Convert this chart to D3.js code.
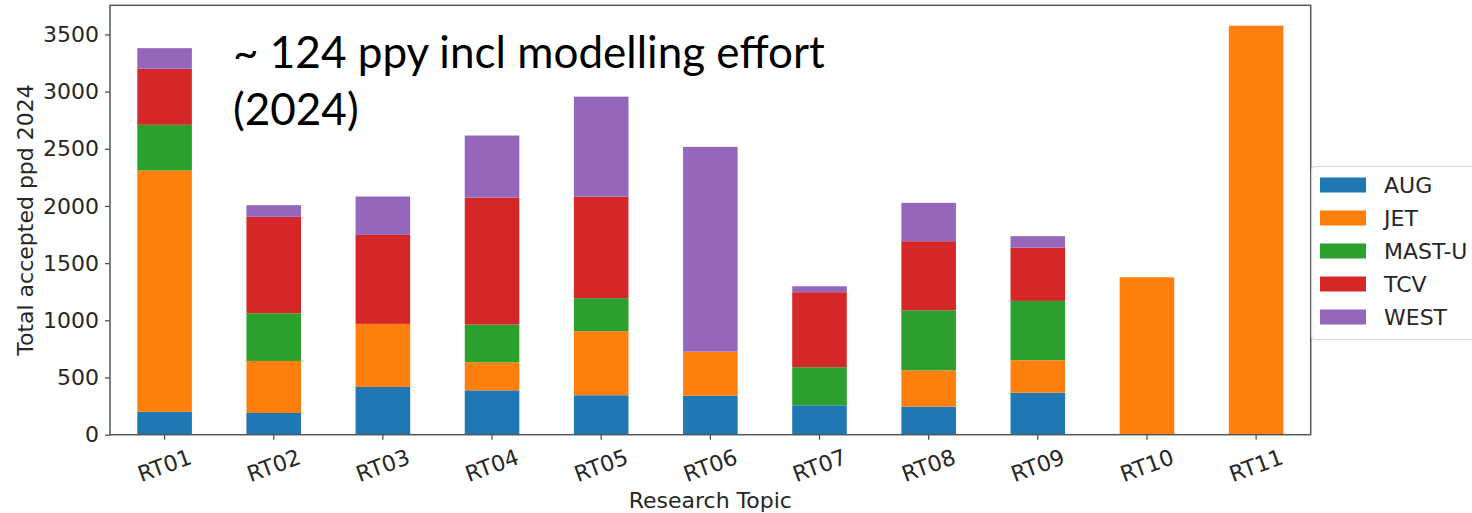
<!DOCTYPE html>
<html>
<head>
<meta charset="utf-8">
<script src="https://cdn.jsdelivr.net/npm/d3@7"></script>
<style>
  html, body { margin: 0; padding: 0; background: #fff; }
  svg { display: block; }
</style>
</head>
<body>
<svg id="chart" width="1472" height="513"></svg>
<script>
// Research topics on the x axis
const categories = ["RT01", "RT02", "RT03", "RT04", "RT05", "RT06", "RT07", "RT08", "RT09", "RT10", "RT11"];

// Accepted ppd per device, 2024
const AUG    = [200, 190, 417, 388, 345, 341, 257, 245, 367, 0, 0];
const JET    = [2110, 455, 552, 245, 560, 385, 0, 318, 284, 1377, 3576];
const MAST_U = [400, 417, 0, 330, 289, 0, 333, 525, 519, 0, 0];
const TCV    = [490, 843, 778, 1111, 887, 0, 656, 604, 466, 0, 0];
const WEST   = [180, 102, 336, 542, 875, 1791, 52, 335, 100, 0, 0];

const seriesNames = ["AUG", "JET", "MAST-U", "TCV", "WEST"];
const seriesValues = [AUG, JET, MAST_U, TCV, WEST];
const colors = ["#1f77b4", "#ff7f0e", "#2ca02c", "#d62728", "#9467bd"];

const yTicks = [0, 500, 1000, 1500, 2000, 2500, 3000, 3500];

const svg = d3.select("#chart");
const plotLeft = 110, plotRight = 1310.7, plotTop = 5.3, plotBottom = 434.7;
const font = "'DejaVu Sans', sans-serif";
const textColor = "#262626";

// table of rows for d3.stack
const rows = categories.map((c, i) => {
  const r = { topic: c };
  seriesNames.forEach((s, k) => { r[s] = seriesValues[k][i]; });
  return r;
});
const stacked = d3.stack().keys(seriesNames)(rows);
const yMax = d3.max(rows, r => d3.sum(seriesNames, s => r[s])) * 1.05;

const x = d3.scaleBand().domain(categories).range([plotLeft, plotRight]).paddingInner(0.5).paddingOuter(0.25);
const y = d3.scaleLinear().domain([0, yMax]).range([plotBottom, plotTop]);

// bars
svg.append("g").selectAll("g")
  .data(stacked)
  .join("g")
  .attr("fill", (d, i) => colors[i])
  .selectAll("rect")
  .data(d => d)
  .join("rect")
  .attr("x", d => x(d.data.topic))
  .attr("width", x.bandwidth())
  .attr("y", d => y(d[1]))
  .attr("height", d => y(d[0]) - y(d[1]));

// axes
const yAxis = svg.append("g")
  .attr("transform", `translate(${plotLeft},0)`)
  .call(d3.axisLeft(y).tickValues(yTicks).tickSize(5).tickPadding(6).tickFormat(d3.format("d")));
yAxis.select(".domain").remove();
yAxis.selectAll("line").attr("stroke", "#444").attr("stroke-width", 1.2);
yAxis.selectAll("text").attr("font-family", font).attr("font-size", 22).attr("fill", textColor);

const xAxis = svg.append("g")
  .attr("transform", `translate(0,${plotBottom})`)
  .call(d3.axisBottom(x).tickSize(5).tickPadding(0));
xAxis.select(".domain").remove();
xAxis.selectAll("line").attr("stroke", "#444").attr("stroke-width", 1.2);
xAxis.selectAll("text")
  .attr("font-family", font).attr("font-size", 22).attr("fill", textColor)
  .attr("text-anchor", "middle")
  .attr("dy", null)
  .attr("y", null)
  .attr("dominant-baseline", "central")
  .attr("transform", "translate(0,31) rotate(-20)");

// frame
svg.append("rect")
  .attr("x", plotLeft).attr("y", plotTop)
  .attr("width", plotRight - plotLeft).attr("height", plotBottom - plotTop)
  .attr("fill", "none").attr("stroke", "#555").attr("stroke-width", 1.5);

// axis titles
svg.append("text")
  .attr("transform", `translate(25,${(plotTop + plotBottom) / 2}) rotate(-90)`)
  .attr("text-anchor", "middle").attr("dominant-baseline", "central")
  .attr("font-family", font).attr("font-size", 22).attr("fill", textColor)
  .text("Total accepted ppd 2024");

svg.append("text")
  .attr("x", (plotLeft + plotRight) / 2).attr("y", 508)
  .attr("text-anchor", "middle")
  .attr("font-family", font).attr("font-size", 22).attr("fill", textColor)
  .text("Research Topic");

// legend
const legend = svg.append("g");
legend.append("rect")
  .attr("x", 1311.5).attr("y", 166.5)
  .attr("width", 200).attr("height", 173)
  .attr("rx", 4)
  .attr("fill", "#fff").attr("fill-opacity", 0.8)
  .attr("stroke", "#d5d5d5").attr("stroke-width", 1.2);
seriesNames.forEach((s, i) => {
  const cy = 185 + i * 33;
  legend.append("rect")
    .attr("x", 1320).attr("y", cy - 7.5)
    .attr("width", 46).attr("height", 15)
    .attr("fill", colors[i]);
  legend.append("text")
    .attr("x", 1384).attr("y", cy)
    .attr("dominant-baseline", "central")
    .attr("font-family", font).attr("font-size", 22).attr("fill", textColor)
    .text(s);
});

// note in the upper left of the plot
const noteFont = "Lato, 'Open Sans', sans-serif";
const note1 = svg.append("text")
  .attr("x", 233).attr("y", 68)
  .attr("font-family", noteFont).attr("font-size", 40).attr("fill", "#000")
  .text("~ 124 ppy incl modelling effort");
const w = note1.node().getComputedTextLength();
const fs = 40 * 592 / w;
note1.attr("font-size", fs);
svg.append("text")
  .attr("x", 233).attr("y", 125)
  .attr("font-family", noteFont).attr("font-size", fs).attr("fill", "#000")
  .text("(2024)");
</script>
</body>
</html>
